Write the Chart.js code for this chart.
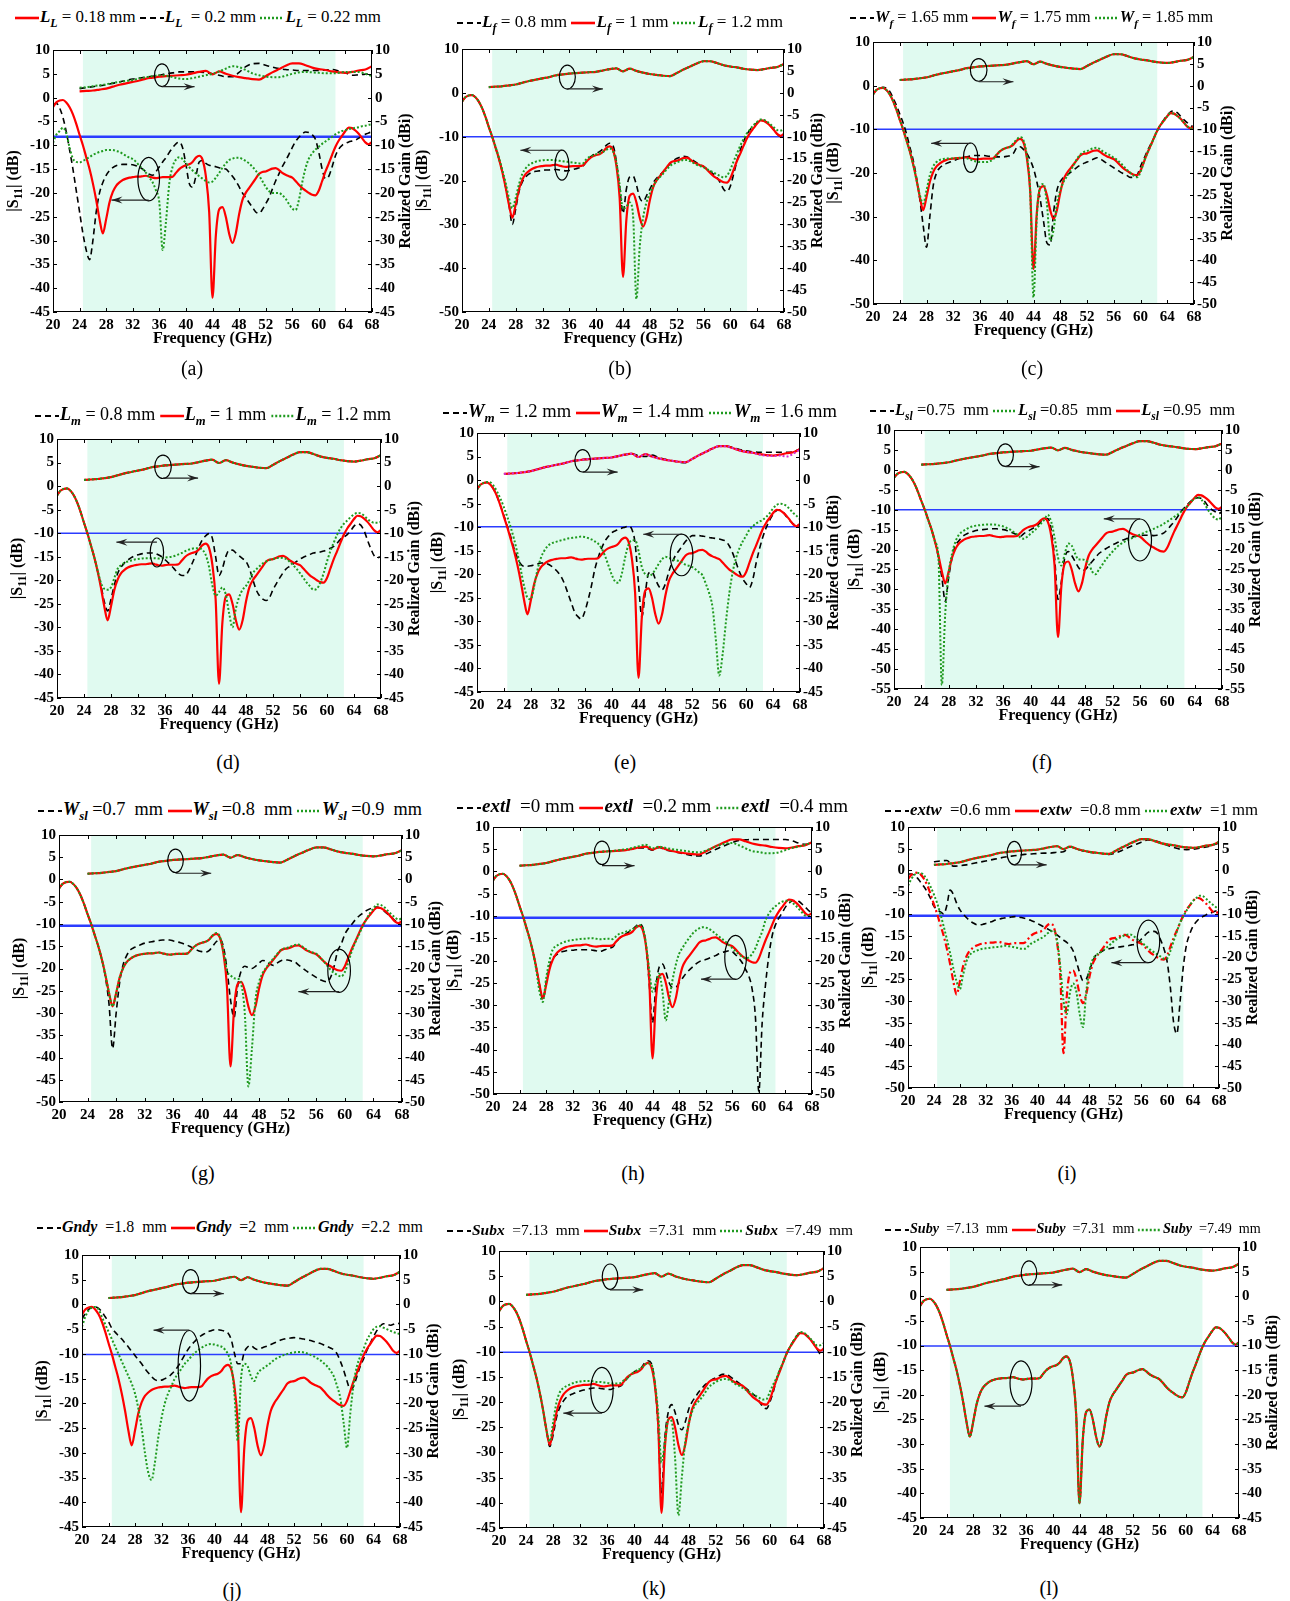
<!DOCTYPE html>
<html>
<head>
<meta charset="utf-8">
<script src="https://cdn.jsdelivr.net/npm/chart.js@4.4.1/dist/chart.umd.min.js"></script>
<style>
  body { margin: 0; background: #fff; width: 1290px; height: 1601px; position: relative; overflow: hidden;
         font-family: "Liberation Serif", "Times New Roman", serif; color: #000; }
  canvas { position: absolute; }
  .leg { position: absolute; white-space: nowrap; font-size: 17px; line-height: 20px; transform-origin: 0 50%; }
  .leg svg { vertical-align: middle; margin-right: 1px; }
  .leg b { font-weight: bold; font-style: italic; }
  .leg sub { font-size: 0.7em; font-weight: bold; font-style: italic; vertical-align: baseline; position: relative; top: 5px; }
  .leg .t { white-space: pre; }
  .lab { position: absolute; font-size: 20px; transform: translate(-50%, -50%); }
  .warn { position: absolute; left: 0; top: 0; color: red; font: 12px monospace; }
</style>
</head>
<body>
<script>
// frequency grids (GHz)
const freqS11 = Array.from({ length: 97 }, (_, i) => 20 + i * 0.5);
const freqGain = Array.from({ length: 45 }, (_, i) => 24 + i);

// reference design (red curves), shared by every panel
const s11Base = [
  -2.0, -1.0, -0.6, -0.5, -1.0, -2.0, -3.5, -5.5, -7.8, -10.0,
  -12.5, -15.0, -18.0, -21.5, -25.5, -28.5, -25.5, -22.0, -19.8, -18.5,
  -17.8, -17.3, -17.0, -16.8, -16.7, -16.6, -16.6, -16.5, -16.4, -16.6,
  -16.8, -16.9, -16.8, -16.7, -16.7, -16.7, -16.6, -15.8, -15.0, -14.5,
  -14.2, -14.0, -13.5, -12.6, -12.2, -13.0, -16.5, -24.0, -42.0, -29.0,
  -23.5, -23.0, -25.0, -28.5, -30.5, -28.5, -24.5, -21.5, -20.0, -19.0,
  -18.0, -17.0, -16.0, -15.6, -15.5, -15.2, -14.9, -14.8, -15.2, -15.8,
  -16.2, -16.5, -16.8, -17.5, -18.3, -19.0, -19.5, -20.0, -20.4, -20.5,
  -19.5, -17.5, -15.5, -13.8, -12.0, -10.3, -9.0, -8.0, -7.0, -6.3,
  -6.4, -6.9, -7.6, -8.5, -9.4, -9.8, -9.3];
const gainBase = [
  1.3, 1.4, 1.5, 1.7, 1.9, 2.3, 2.7, 3.0, 3.3, 3.6,
  4.0, 4.2, 4.4, 4.5, 4.6, 4.7, 4.8, 5.1, 5.4, 5.6,
  4.9, 5.5, 5.0, 4.6, 4.3, 4.1, 3.9, 3.8, 4.5, 5.3,
  6.0, 6.7, 7.2, 7.2, 6.8, 6.3, 6.0, 5.8, 5.5, 5.3,
  5.2, 5.4, 5.7, 5.9, 6.6];

// (a) L_L
const aS11Dash = [
  -1.5, -1.2, -2.2, -4.2, -7.2, -11.0, -15.0, -19.5, -24.0, -28.5,
  -32.0, -34.0, -30.0, -24.0, -20.0, -17.8, -16.3, -15.3, -14.7, -14.3,
  -14.1, -14.0, -14.0, -14.0, -14.1, -14.3, -14.6, -15.0, -15.6, -16.1,
  -16.3, -15.5, -14.5, -13.5, -12.6, -11.5, -10.5, -9.7, -9.3, -10.5,
  -14.0, -18.0, -18.8, -16.5, -13.5, -13.2, -13.8, -14.2, -14.3, -14.5,
  -14.7, -14.9, -15.0, -15.7, -16.5, -17.5, -18.7, -20.0, -21.0, -22.0,
  -23.0, -24.0, -24.3, -23.5, -22.3, -21.0, -19.2, -17.5, -16.0, -14.5,
  -13.2, -11.9, -10.5, -9.2, -8.3, -7.6, -7.2, -7.3, -7.8, -8.8,
  -11.5, -15.0, -17.0, -16.5, -14.5, -12.2, -10.8, -10.0, -9.6, -9.3,
  -9.1, -8.9, -8.5, -8.0, -7.7, -7.4, -7.2];
const aS11Dot = [
  -9.5, -7.8, -7.0, -6.3, -7.5, -10.5, -12.8, -13.5, -13.6, -13.3,
  -12.9, -12.5, -12.0, -11.7, -11.4, -11.2, -11.0, -11.0, -11.0, -11.2,
  -11.4, -11.8, -12.2, -12.6, -12.9, -13.5, -14.3, -15.0, -15.8, -16.8,
  -17.8, -19.5, -22.0, -32.0, -26.0, -18.0, -14.5, -13.0, -12.5, -12.9,
  -13.8, -14.6, -15.3, -15.9, -16.5, -17.0, -17.5, -17.8, -17.6, -16.8,
  -15.8, -14.7, -13.8, -13.1, -12.8, -12.6, -12.6, -12.9, -13.3, -13.8,
  -14.5, -15.3, -16.3, -17.5, -18.7, -19.6, -20.0, -20.0, -20.0, -20.5,
  -21.2, -22.3, -23.3, -23.6, -21.5, -17.8, -14.8, -12.8, -11.7, -10.9,
  -10.3, -9.7, -9.2, -8.7, -8.2, -7.7, -7.3, -7.0, -6.8, -6.6,
  -6.5, -6.3, -6.2, -6.0, -5.9, -5.7, -5.6];
const aGainDash = [
  1.9, 2.1, 2.3, 2.5, 2.7, 3.0, 3.3, 3.6, 3.9, 4.1,
  4.3, 4.5, 4.7, 5.0, 5.2, 5.4, 5.4, 5.4, 5.4, 5.2,
  5.0, 4.7, 4.4, 4.4, 5.3, 6.5, 7.1, 7.2, 6.8, 6.4,
  6.1, 5.9, 5.8, 5.7, 5.7, 5.7, 5.7, 5.8, 5.9, 5.6,
  5.2, 4.7, 4.8, 4.9, 5.0];
const aGainDot = [
  2.1, 2.2, 2.4, 2.6, 2.8, 3.1, 3.3, 3.5, 3.7, 4.0,
  4.3, 4.5, 4.7, 4.6, 4.3, 4.0, 3.9, 4.1, 4.4, 4.7,
  5.0, 5.5, 6.1, 6.6, 6.4, 5.8, 5.1, 4.7, 4.4, 4.3,
  4.3, 4.6, 5.0, 5.3, 5.4, 5.3, 5.2, 5.1, 5.1, 5.2,
  5.4, 5.4, 5.4, 5.0, 4.5];

// (b) L_f
const bS11Dash = [
  -2.0, -1.0, -0.6, -0.5, -1.0, -2.0, -3.5, -5.5, -7.8, -10.0,
  -12.5, -15.0, -18.0, -21.5, -25.5, -30.0, -26.5, -22.5, -20.3, -19.2,
  -18.5, -18.1, -17.9, -17.8, -17.7, -17.6, -17.6, -17.5, -17.5, -17.6,
  -17.7, -17.8, -17.7, -17.5, -17.3, -17.1, -16.8, -15.8, -14.8, -14.2,
  -13.8, -13.4, -12.8, -12.0, -11.5, -12.0, -15.5, -21.5, -27.5, -22.0,
  -19.2, -19.0, -21.0, -24.0, -24.8, -23.5, -22.0, -20.5, -19.5, -18.7,
  -18.0, -17.0, -16.2, -15.5, -15.0, -14.7, -14.5, -14.6, -15.0, -15.5,
  -16.0, -16.4, -16.8, -17.3, -17.9, -18.6, -19.3, -20.5, -22.0, -22.5,
  -21.3, -18.5, -15.5, -13.0, -11.0, -9.4, -8.3, -7.5, -6.8, -6.3,
  -6.3, -6.8, -7.5, -8.4, -9.4, -10.0, -9.6];
const bS11Dot = [
  -2.0, -1.0, -0.6, -0.5, -1.0, -2.0, -3.5, -5.5, -7.8, -10.0,
  -12.3, -14.8, -17.5, -20.5, -24.0, -26.3, -24.0, -20.8, -18.5, -17.2,
  -16.4, -16.0, -15.7, -15.5, -15.4, -15.3, -15.3, -15.3, -15.4, -15.5,
  -15.6, -15.7, -15.8, -15.9, -16.0, -16.1, -16.1, -15.2, -14.6, -14.3,
  -14.0, -13.8, -13.5, -13.0, -12.7, -13.3, -15.8, -21.0, -26.5, -26.0,
  -25.0, -28.0, -47.0, -35.0, -28.5, -25.0, -23.0, -21.3, -20.0, -19.2,
  -18.4, -17.5, -16.7, -16.2, -15.9, -15.6, -15.3, -15.3, -15.6, -16.0,
  -16.4, -16.7, -17.0, -17.4, -17.8, -18.2, -18.6, -19.0, -19.3, -18.9,
  -17.5, -15.6, -13.8, -12.0, -10.5, -9.2, -8.2, -7.3, -6.6, -6.1,
  -6.2, -6.6, -7.2, -7.9, -8.5, -8.6, -8.3];

// (c) W_f
const cS11Dash = [
  -2.0, -1.0, -0.6, -0.4, -0.6, -1.3, -2.8, -4.5, -6.5, -8.5,
  -11.0, -14.0, -17.0, -21.0, -26.0, -32.0, -37.0, -30.0, -23.0, -20.0,
  -18.8, -18.2, -17.8, -17.5, -17.2, -16.9, -16.6, -16.4, -16.3, -16.1,
  -16.0, -16.0, -16.0, -16.0, -16.1, -16.2, -16.3, -16.3, -16.3, -16.3,
  -16.2, -16.0, -15.5, -14.2, -14.0, -14.6, -15.5, -17.0, -19.0, -22.0,
  -26.0, -31.0, -36.0, -36.5, -29.0, -24.0, -22.0, -21.0, -20.5, -19.9,
  -19.3, -18.7, -18.2, -17.8, -17.5, -17.1, -16.8, -16.5, -16.8, -17.3,
  -17.8, -18.3, -18.8, -19.3, -19.8, -20.2, -20.6, -21.0, -21.0, -20.5,
  -18.5, -16.8, -15.0, -13.5, -12.0, -10.3, -9.0, -7.8, -6.8, -6.0,
  -5.8, -6.2, -7.0, -7.8, -8.5, -9.2, -9.3];
const cS11Dot = [
  -2.0, -1.0, -0.6, -0.5, -1.0, -2.0, -3.5, -5.5, -7.8, -10.0,
  -12.5, -15.0, -18.0, -21.5, -25.0, -27.0, -24.0, -20.5, -18.5, -17.5,
  -17.0, -16.8, -16.7, -16.7, -16.6, -16.6, -16.5, -16.5, -16.6, -16.9,
  -17.2, -17.4, -17.5, -17.5, -17.5, -17.3, -16.8, -15.8, -15.0, -14.5,
  -14.2, -14.0, -13.2, -12.3, -11.8, -12.5, -16.0, -24.0, -48.5, -30.0,
  -23.0, -22.5, -27.0, -35.5, -33.0, -27.0, -24.0, -22.0, -20.8, -19.5,
  -18.2, -16.8, -15.8, -15.2, -15.0, -14.6, -14.3, -14.2, -14.6, -15.2,
  -15.6, -16.0, -16.5, -17.0, -17.7, -18.5, -19.3, -20.0, -20.6, -21.0,
  -19.8, -17.5, -15.5, -13.8, -12.0, -10.3, -9.0, -8.0, -7.0, -6.3,
  -6.4, -6.9, -7.6, -8.5, -9.3, -9.8, -9.8];

// (d) L_m
const dS11Dash = [
  -2.0, -1.0, -0.6, -0.5, -1.0, -2.0, -3.5, -5.5, -7.8, -10.0,
  -12.5, -15.0, -18.0, -21.0, -24.5, -26.5, -24.0, -21.0, -18.5, -17.2,
  -16.3, -15.7, -15.2, -14.8, -14.6, -14.4, -14.3, -14.2, -14.2, -14.3,
  -14.6, -15.0, -15.6, -16.3, -17.0, -17.8, -18.6, -19.0, -19.0, -18.0,
  -16.5, -14.8, -13.0, -11.5, -10.6, -10.1, -11.0, -15.0, -19.0, -17.5,
  -15.0, -13.6, -13.6, -14.2, -14.8, -15.4, -16.0, -17.5, -19.8, -22.0,
  -23.3, -24.0, -24.3, -23.6, -22.0, -20.7, -19.5, -18.4, -17.5, -17.0,
  -16.5, -16.0, -15.5, -15.1, -14.8, -14.5, -14.2, -14.1, -14.0, -13.8,
  -13.5, -13.2, -12.8, -12.1, -11.3, -10.8, -10.3, -9.5, -8.5, -8.0,
  -8.3, -9.5, -11.5, -13.3, -14.8, -15.2, -15.0];
const dS11Dot = [
  -2.0, -1.0, -0.6, -0.5, -1.0, -2.0, -3.5, -5.5, -7.8, -10.0,
  -12.5, -15.0, -17.8, -20.5, -21.8, -22.0, -21.5, -19.5, -17.5, -16.8,
  -16.3, -16.0, -15.8, -15.6, -15.5, -15.4, -15.3, -15.3, -15.3, -15.3,
  -15.4, -15.3, -15.2, -15.1, -15.0, -14.8, -14.5, -14.2, -13.8, -13.5,
  -13.3, -13.2, -13.2, -13.5, -14.5, -17.0, -21.0, -23.3, -22.5, -21.5,
  -23.0, -27.0, -30.0, -26.0, -23.5, -22.0, -21.2, -20.0, -18.5, -17.7,
  -17.0, -16.4, -16.0, -15.7, -15.5, -15.3, -15.2, -15.3, -15.5, -16.1,
  -16.8, -17.6, -18.5, -19.5, -20.5, -21.3, -22.0, -21.8, -20.5, -18.5,
  -16.0, -13.8, -12.0, -10.3, -9.0, -8.0, -7.3, -6.6, -6.0, -5.7,
  -5.8, -6.3, -7.0, -7.5, -7.8, -7.8, -7.6];

// (e) W_m
const eS11Dash = [
  -2.0, -1.0, -0.6, -0.5, -1.0, -2.0, -3.5, -5.5, -7.5, -9.8,
  -12.0, -14.5, -16.5, -17.8, -18.3, -18.3, -18.2, -18.0, -17.8, -17.6,
  -17.6, -17.8, -18.2, -18.8, -19.5, -20.5, -22.0, -24.0, -26.0, -28.0,
  -29.0, -29.5, -28.0, -25.5, -22.5, -19.0, -16.5, -14.5, -13.0, -12.0,
  -11.2, -10.8, -10.5, -10.2, -10.0, -9.8, -10.4, -13.5, -22.0, -29.0,
  -24.0, -19.8, -19.5, -21.0, -22.5, -23.3, -22.0, -19.5, -17.5, -16.0,
  -15.0, -14.0, -13.0, -12.3, -11.8, -11.8, -11.8, -11.9, -12.0, -12.2,
  -12.3, -12.4, -12.5, -12.7, -13.0, -14.0, -15.5, -17.5, -19.5, -21.0,
  -22.0, -22.8, -21.0, -17.5, -14.5, -12.0, -10.0, -8.5, -7.3, -6.5,
  -6.3, -6.8, -7.8, -8.6, -9.3, -9.7, -9.3];
const eS11Dot = [
  -2.0, -1.0, -0.6, -0.4, -0.5, -1.3, -2.5, -4.0, -5.8, -7.8,
  -10.0, -12.5, -15.5, -19.0, -22.5, -25.0, -25.3, -22.5, -19.0, -16.5,
  -15.0, -14.0, -13.5, -13.2, -13.0, -12.8, -12.6, -12.4, -12.3, -12.2,
  -12.1, -12.0, -12.1, -12.3, -12.6, -13.0, -13.5, -14.5, -16.0, -18.0,
  -20.0, -21.5, -21.8, -20.0, -16.5, -13.8, -12.8, -12.8, -15.0, -18.5,
  -20.0, -20.3, -20.0, -19.0, -17.8, -16.8, -16.3, -16.5, -16.8, -17.0,
  -17.2, -17.5, -18.0, -18.2, -18.5, -19.0, -19.6, -20.2, -22.0, -24.0,
  -27.0, -34.0, -41.5, -37.0, -30.0, -24.0, -19.5, -16.5, -14.5, -13.0,
  -11.8, -10.5, -9.8, -9.2, -8.8, -8.4, -7.8, -7.0, -6.0, -5.3,
  -5.0, -5.1, -5.5, -6.2, -7.0, -7.6, -8.3];
const eGainDash = [
  1.3, 1.4, 1.5, 1.7, 1.9, 2.3, 2.7, 3.0, 3.3, 3.6,
  4.0, 4.2, 4.4, 4.5, 4.6, 4.7, 4.8, 5.1, 5.4, 5.6,
  5.2, 5.0, 5.3, 4.8, 4.4, 4.1, 3.8, 3.7, 4.5, 5.3,
  6.0, 6.7, 7.2, 7.2, 6.9, 6.5, 6.2, 6.0, 5.9, 5.9,
  5.9, 5.9, 5.9, 6.0, 6.6];
const eGainDot = [
  1.3, 1.4, 1.5, 1.7, 1.9, 2.3, 2.7, 3.0, 3.3, 3.6,
  4.0, 4.2, 4.4, 4.5, 4.6, 4.7, 4.8, 5.1, 5.4, 5.6,
  4.9, 5.5, 5.0, 4.6, 4.3, 4.1, 3.9, 3.8, 4.5, 5.3,
  6.0, 6.7, 7.2, 7.2, 6.8, 6.3, 6.0, 5.8, 5.4, 5.2,
  5.1, 5.2, 5.0, 5.6, 6.5];

// (f) L_sl
const fS11Dash = [
  -2.0, -1.0, -0.6, -0.5, -1.0, -2.0, -3.5, -5.5, -7.8, -10.0,
  -12.5, -15.0, -18.0, -22.0, -27.0, -33.0, -27.0, -22.0, -19.0, -17.8,
  -16.8, -16.2, -15.8, -15.5, -15.2, -15.1, -15.0, -14.9, -14.8, -14.8,
  -14.8, -14.9, -15.0, -15.2, -15.5, -15.9, -16.3, -16.7, -16.0, -15.5,
  -15.0, -14.5, -14.0, -13.0, -12.5, -12.2, -15.0, -22.0, -32.5, -28.0,
  -22.0, -20.5, -21.5, -23.0, -24.5, -25.3, -25.0, -24.0, -23.0, -22.0,
  -21.0, -20.4, -19.8, -19.3, -18.8, -18.4, -18.0, -17.6, -17.3, -17.0,
  -16.8, -16.6, -16.5, -16.4, -16.4, -16.4, -16.5, -16.4, -16.2, -15.8,
  -15.0, -14.0, -13.0, -11.8, -10.5, -9.5, -8.6, -7.8, -7.2, -7.0,
  -7.2, -8.0, -9.2, -10.0, -10.5, -11.0, -10.5];
const fS11Dot = [
  -2.0, -1.0, -0.6, -0.5, -1.0, -2.0, -3.5, -5.5, -7.8, -10.0,
  -12.5, -15.0, -18.0, -22.0, -54.0, -36.0, -26.0, -21.0, -18.0, -16.3,
  -15.5, -15.0, -14.5, -14.2, -14.0, -13.9, -13.8, -13.7, -13.7, -13.7,
  -13.8, -14.0, -14.2, -14.6, -15.0, -15.6, -16.2, -17.0, -17.3, -16.8,
  -16.0, -15.3, -14.5, -13.5, -12.5, -11.3, -13.0, -17.0, -22.0, -24.0,
  -21.0, -18.5, -19.0, -21.0, -22.5, -22.5, -22.7, -23.5, -25.5, -26.2,
  -25.0, -23.8, -22.5, -21.5, -20.5, -19.6, -18.8, -18.3, -17.8, -17.4,
  -17.0, -16.6, -16.3, -15.9, -15.5, -15.2, -14.8, -14.4, -14.0, -13.5,
  -13.0, -12.4, -11.8, -11.2, -10.5, -9.8, -9.0, -8.0, -7.2, -6.9,
  -7.5, -8.7, -10.2, -11.3, -12.2, -12.5, -11.5];

// (g) W_sl
const gS11Dash = [
  -2.0, -1.0, -0.6, -0.5, -1.0, -2.0, -3.5, -5.5, -7.8, -10.0,
  -12.5, -15.0, -18.0, -22.0, -28.0, -38.0, -30.0, -23.0, -19.0, -17.0,
  -15.8, -15.3, -15.0, -14.6, -14.3, -14.1, -14.0, -13.8, -13.7, -13.6,
  -13.6, -13.6, -13.8, -14.0, -14.2, -14.5, -14.8, -15.2, -15.6, -16.0,
  -16.2, -16.3, -16.0, -15.0, -14.0, -13.4, -15.0, -20.0, -27.0, -31.0,
  -24.0, -20.5, -19.5, -19.8, -20.0, -19.5, -18.8, -18.2, -18.4, -19.0,
  -19.3, -18.8, -18.3, -18.1, -18.1, -18.3, -18.5, -19.2, -19.8, -20.4,
  -21.0, -21.5, -22.0, -22.5, -22.8, -23.0, -22.0, -19.5, -16.0, -14.5,
  -12.3, -11.0, -10.0, -9.0, -8.2, -7.6, -7.0, -6.6, -6.3, -6.2,
  -6.5, -7.1, -7.8, -8.5, -9.2, -9.8, -10.3];
const gS11Dot = [
  -2.0, -1.0, -0.6, -0.5, -1.0, -2.0, -3.5, -5.5, -7.8, -10.0,
  -12.5, -15.0, -18.0, -21.5, -25.5, -28.5, -25.5, -22.0, -19.8, -18.5,
  -17.8, -17.3, -17.0, -16.8, -16.7, -16.6, -16.6, -16.5, -16.4, -16.6,
  -16.8, -16.9, -16.8, -16.7, -16.7, -16.7, -16.6, -15.8, -15.0, -14.5,
  -14.2, -14.0, -13.5, -12.6, -12.0, -12.8, -16.0, -20.5, -21.5, -22.2,
  -22.3, -23.5, -30.0, -46.5, -38.0, -27.0, -23.0, -21.0, -19.8, -18.7,
  -17.8, -16.8, -15.9, -15.5, -15.3, -15.0, -14.7, -14.6, -15.0, -15.6,
  -16.1, -16.4, -16.7, -17.4, -18.3, -19.3, -20.3, -21.0, -21.5, -21.8,
  -20.8, -18.5, -16.0, -14.0, -12.3, -10.5, -9.0, -7.6, -6.5, -5.6,
  -5.7, -6.2, -7.0, -7.8, -8.5, -9.0, -8.7];

// (h) extl
const hS11Dash = [
  -2.0, -1.0, -0.6, -0.5, -1.0, -2.0, -3.5, -5.5, -7.8, -10.0,
  -12.5, -15.0, -18.0, -21.5, -25.5, -28.8, -25.0, -21.5, -19.5, -18.8,
  -18.3, -18.0, -17.8, -17.7, -17.7, -17.6, -17.6, -17.6, -17.6, -17.6,
  -17.7, -17.8, -18.0, -17.8, -17.5, -17.2, -17.0, -16.0, -15.0, -14.5,
  -14.0, -13.5, -13.0, -12.3, -11.8, -12.5, -16.5, -25.0, -34.0, -26.0,
  -21.5, -20.8, -22.5, -25.0, -26.0, -26.0, -25.0, -24.0, -23.0, -22.2,
  -21.5, -20.8, -20.3, -20.0, -19.8, -19.5, -19.2, -18.9, -18.5, -18.2,
  -18.0, -17.8, -18.0, -18.7, -19.5, -20.5, -22.0, -23.5, -26.5, -33.0,
  -49.5, -34.0, -25.5, -19.0, -14.5, -12.0, -10.5, -9.3, -8.0, -7.2,
  -6.6, -6.5, -6.7, -7.3, -8.0, -8.8, -9.2];
const hS11Dot = [
  -2.0, -1.0, -0.6, -0.5, -1.0, -2.0, -3.5, -5.5, -7.8, -10.0,
  -12.5, -15.0, -18.0, -22.0, -27.0, -29.3, -24.0, -20.0, -17.5, -16.8,
  -16.3, -16.0, -15.7, -15.5, -15.4, -15.3, -15.2, -15.1, -15.1, -15.0,
  -15.0, -15.1, -15.2, -15.2, -15.1, -15.1, -15.2, -14.6, -14.0, -13.8,
  -13.5, -13.3, -13.0, -12.5, -12.0, -12.5, -16.0, -22.0, -27.0, -25.0,
  -23.0, -27.0, -33.5, -29.0, -24.5, -21.0, -18.5, -17.2, -16.0, -15.0,
  -14.0, -13.3, -12.8, -12.5, -12.6, -12.9, -13.4, -14.0, -14.6, -15.2,
  -15.8, -16.5, -17.2, -17.9, -18.6, -19.1, -19.5, -19.3, -18.5, -17.2,
  -15.3, -13.5, -11.0, -9.5, -8.5, -7.8, -7.2, -6.8, -6.6, -6.6,
  -7.0, -7.6, -8.4, -9.2, -9.9, -10.0, -9.6];
const hGainDash = [
  1.3, 1.4, 1.5, 1.7, 1.9, 2.3, 2.7, 3.0, 3.3, 3.6,
  4.0, 4.2, 4.4, 4.5, 4.6, 4.7, 4.8, 5.1, 5.3, 5.3,
  4.8, 5.4, 4.8, 4.5, 4.2, 3.9, 3.6, 3.5, 3.9, 4.6,
  5.3, 5.9, 6.5, 7.0, 7.1, 7.2, 7.2, 7.2, 7.2, 7.2,
  7.2, 6.9, 6.4, 6.1, 6.6];
const hGainDot = [
  1.3, 1.4, 1.5, 1.7, 1.9, 2.3, 2.7, 3.0, 3.3, 3.6,
  4.0, 4.2, 4.4, 4.5, 4.6, 4.8, 5.0, 5.3, 5.7, 6.0,
  5.2, 5.6, 5.3, 5.0, 4.8, 4.6, 4.4, 4.3, 4.7, 5.3,
  5.9, 6.3, 6.4, 5.9, 5.2, 4.6, 4.4, 4.1, 4.1, 4.3,
  4.8, 5.3, 5.6, 6.0, 6.6];

// (i) extw
const iS11Dash = [
  -0.8, -0.8, -1.2, -1.8, -2.8, -3.8, -5.0, -6.5, -8.2, -9.0,
  -9.5, -10.0, -8.0, -4.5, -5.5, -7.5, -9.0, -10.0, -10.8, -11.5,
  -12.0, -12.4, -12.5, -12.4, -12.2, -12.0, -11.7, -11.4, -11.2, -11.0,
  -10.9, -10.8, -10.7, -10.6, -10.7, -10.8, -11.0, -11.2, -11.5, -11.8,
  -12.2, -12.6, -13.0, -13.4, -13.8, -14.3, -14.8, -15.4, -16.0, -16.5,
  -17.3, -18.5, -21.0, -23.5, -25.3, -25.0, -23.0, -21.0, -19.5, -19.0,
  -18.5, -18.2, -18.0, -17.8, -17.7, -17.6, -17.5, -17.4, -17.3, -17.1,
  -17.0, -16.5, -15.8, -15.0, -14.3, -14.0, -14.0, -14.5, -16.0, -18.0,
  -21.0, -27.0, -35.0, -37.5, -30.0, -22.0, -17.0, -14.5, -12.8, -11.8,
  -11.0, -10.6, -10.2, -9.9, -9.6, -9.3, -9.2];
const iS11Dot = [
  -3.5, -2.0, -1.0, -0.6, -0.6, -1.2, -2.3, -3.8, -5.5, -7.5,
  -10.0, -12.8, -15.8, -19.0, -22.5, -25.5, -27.3, -24.0, -21.0, -19.5,
  -18.8, -18.5, -18.2, -18.0, -17.9, -17.8, -17.7, -17.6, -17.6, -17.4,
  -17.3, -17.4, -17.5, -17.7, -17.8, -18.0, -18.0, -17.5, -16.8, -16.4,
  -16.0, -15.6, -15.2, -14.5, -14.0, -13.8, -16.0, -22.0, -30.0, -33.0,
  -28.0, -26.0, -28.0, -33.0, -36.0, -28.0, -23.0, -20.5, -19.5, -19.0,
  -18.5, -17.9, -17.3, -16.6, -16.0, -15.6, -15.2, -14.9, -14.7, -14.8,
  -15.3, -15.9, -16.5, -17.1, -17.7, -18.3, -18.8, -19.3, -19.8, -20.3,
  -20.2, -18.5, -16.2, -14.0, -12.0, -10.5, -9.2, -8.0, -7.0, -6.3,
  -5.8, -5.9, -6.5, -7.2, -7.8, -8.4, -9.0];
const iGainDash = [
  2.0, 2.2, 2.3, 1.0, 1.1, 1.3, 1.6, 1.9, 2.2, 2.5,
  2.8, 3.1, 3.3, 3.5, 3.7, 3.8, 3.9, 4.0, 4.0, 4.2,
  4.3, 5.4, 5.0, 4.5, 4.2, 4.0, 3.9, 3.7, 4.0, 4.6,
  5.3, 5.9, 6.5, 7.0, 6.9, 6.4, 5.8, 5.3, 4.9, 4.8,
  4.9, 5.1, 5.4, 5.8, 6.3];

// (j) Gndy
const jS11Dash = [
  -3.0, -1.8, -1.0, -0.6, -0.5, -0.8, -1.5, -2.5, -3.5, -4.8,
  -5.6, -6.3, -7.0, -7.8, -8.6, -9.5, -10.3, -11.2, -12.0, -13.0,
  -13.8, -14.6, -15.2, -15.4, -15.3, -15.0, -14.7, -14.1, -13.4, -12.5,
  -11.4, -10.2, -9.1, -8.2, -7.5, -6.8, -6.3, -5.9, -5.5, -5.3,
  -5.1, -5.1, -5.2, -5.4, -5.7, -7.0, -9.8, -12.0, -12.0, -9.6,
  -8.6, -8.3, -8.8, -9.1, -8.9, -8.6, -8.4, -8.1, -7.8, -7.5,
  -7.2, -7.0, -6.9, -6.8, -6.7, -6.8, -6.9, -7.0, -7.2, -7.3,
  -7.5, -7.7, -7.9, -8.2, -8.5, -8.8, -9.2, -10.0, -11.5, -13.3,
  -15.5, -17.2, -16.5, -14.5, -12.5, -11.0, -9.3, -7.9, -6.5, -5.3,
  -4.4, -3.9, -4.0, -4.2, -4.0, -3.8, -3.9];
const jS11Dot = [
  -4.5, -2.5, -1.2, -0.6, -0.5, -1.0, -2.5, -4.0, -5.5, -7.0,
  -8.5, -10.0, -11.5, -13.0, -14.5, -16.0, -18.0, -21.0, -25.0, -30.0,
  -34.0, -35.5, -32.0, -27.0, -23.0, -20.0, -18.0, -16.5, -15.0, -14.0,
  -13.0, -12.0, -11.3, -10.5, -9.8, -9.3, -8.8, -8.4, -8.1, -8.0,
  -8.1, -8.3, -8.5, -9.0, -10.0, -12.0, -18.0, -27.5, -15.0, -12.0,
  -12.5, -14.5, -15.5, -14.0, -13.2, -12.8, -12.3, -11.8, -11.2, -10.8,
  -10.5, -10.2, -10.0, -9.8, -9.7, -9.6, -9.6, -9.7, -9.9, -10.2,
  -10.5, -10.9, -11.3, -11.9, -12.5, -13.4, -14.5, -16.5, -19.0, -24.0,
  -29.0, -22.0, -16.0, -12.5, -10.5, -9.0, -7.2, -6.0, -5.0, -4.5,
  -4.4, -4.7, -5.0, -5.3, -5.6, -5.8, -6.0];

// (k) Subx
const kS11Dash = [
  -2.0, -1.0, -0.6, -0.5, -1.0, -2.0, -3.5, -5.5, -7.8, -10.0,
  -12.5, -15.0, -18.0, -21.5, -25.5, -28.8, -26.5, -23.0, -21.0, -19.8,
  -19.0, -18.6, -18.3, -18.0, -17.8, -17.6, -17.4, -17.3, -17.2, -17.2,
  -17.3, -17.4, -17.5, -17.5, -17.2, -17.0, -16.8, -16.0, -15.2, -14.5,
  -14.0, -13.6, -13.2, -12.3, -11.8, -12.3, -16.0, -25.0, -38.0, -27.0,
  -22.0, -20.5, -22.0, -24.5, -25.5, -24.0, -21.5, -20.0, -19.0, -18.0,
  -17.2, -16.5, -16.0, -15.5, -15.2, -14.8, -14.5, -14.4, -14.8, -15.3,
  -15.8, -16.3, -16.8, -17.3, -17.8, -18.4, -19.0, -20.0, -21.0, -21.3,
  -20.0, -18.0, -15.5, -13.5, -12.0, -10.3, -9.0, -7.8, -6.8, -6.2,
  -6.3, -6.8, -7.5, -8.5, -9.5, -10.5, -10.0];
const kS11Dot = [
  -2.0, -1.0, -0.6, -0.5, -1.0, -2.0, -3.5, -5.5, -7.8, -10.0,
  -12.5, -15.0, -18.0, -21.5, -25.5, -27.8, -24.0, -20.0, -18.0, -17.2,
  -16.8, -16.5, -16.2, -16.0, -15.9, -15.8, -15.8, -15.8, -15.9, -16.0,
  -16.0, -16.1, -16.2, -16.3, -16.3, -16.3, -16.2, -15.6, -15.2, -14.5,
  -14.0, -13.6, -13.3, -12.6, -12.3, -12.5, -16.0, -22.0, -32.0, -28.0,
  -23.5, -23.8, -31.0, -42.5, -35.0, -28.0, -24.5, -22.0, -20.5, -19.8,
  -19.0, -18.0, -17.0, -16.5, -16.0, -15.7, -15.5, -15.4, -15.6, -16.0,
  -16.5, -16.8, -17.2, -17.6, -18.0, -18.4, -18.8, -19.2, -19.5, -19.4,
  -18.0, -16.5, -15.2, -13.5, -12.0, -10.3, -9.0, -7.8, -6.8, -6.1,
  -6.2, -6.8, -7.4, -8.1, -8.8, -8.7, -8.3];

// legend entries: [line style, symbol, subscript, rest]
const legA = [[1, 'L', 'L', ' = 0.18 mm '], [0, 'L', 'L', '  = 0.2 mm '], [2, 'L', 'L', ' = 0.22 mm']];
const legB = [[0, 'L', 'f', ' = 0.8 mm '], [1, 'L', 'f', ' = 1 mm '], [2, 'L', 'f', ' = 1.2 mm']];
const legC = [[0, 'W', 'f', ' = 1.65 mm '], [1, 'W', 'f', ' = 1.75 mm '], [2, 'W', 'f', ' = 1.85 mm']];
const legD = [[0, 'L', 'm', ' = 0.8 mm '], [1, 'L', 'm', ' = 1 mm '], [2, 'L', 'm', ' = 1.2 mm']];
const legE = [[0, 'W', 'm', ' = 1.2 mm '], [1, 'W', 'm', ' = 1.4 mm '], [2, 'W', 'm', ' = 1.6 mm']];
const legF = [[0, 'L', 'sl', ' =0.75  mm '], [2, 'L', 'sl', ' =0.85  mm '], [1, 'L', 'sl', ' =0.95  mm']];
const legG = [[0, 'W', 'sl', ' =0.7  mm '], [1, 'W', 'sl', ' =0.8  mm '], [2, 'W', 'sl', ' =0.9  mm']];
const legH = [[0, 'extl', '', '  =0 mm '], [1, 'extl', '', '  =0.2 mm '], [2, 'extl', '', '  =0.4 mm']];
const legI = [[0, 'extw', '', '  =0.6 mm '], [1, 'extw', '', '  =0.8 mm '], [2, 'extw', '', '  =1 mm']];
const legJ = [[0, 'Gndy', '', '  =1.8  mm '], [1, 'Gndy', '', '  =2  mm '], [2, 'Gndy', '', '  =2.2  mm']];
const legK = [[0, 'Subx', '', '  =7.13  mm '], [1, 'Subx', '', '  =7.31  mm '], [2, 'Subx', '', '  =7.49  mm']];
const legL = [[0, 'Suby', '', '  =7.13  mm '], [1, 'Suby', '', '  =7.31  mm '], [2, 'Suby', '', '  =7.49  mm']];

const band = [24.5, 62.5];   // shaded operating band (GHz)

// panel layout: plot box [left, top, right, bottom], legend span [x0, x1, y] in page pixels
const panels = [
  { key: 'a', box: [53, 50, 372, 312], yMin: -45, lStep: 5, thr: -8.2, thrW: 2.5, s11: [aS11Dash, s11Base, aS11Dot], gain: [aGainDash, gainBase, aGainDot], leg: legA, legAt: [15, 381, 17], labAt: [192, 368],
    ell: [[36.4, 4.7, 7.5, 11.3], [34.4, -17.1, 10.8, 21.7]], arr: [[36.4, 41.3, 2.3], [34.4, 28.8, -21.5]] },
  { key: 'b', box: [462, 49, 784, 312], yMin: -50, lStep: 10, thr: -10, thrW: 1.5, s11: [bS11Dash, s11Base, bS11Dot], gain: [gainBase, gainBase, gainBase], leg: legB, legAt: [457, 783, 22], labAt: [620, 368],
    ell: [[35.7, 3.6, 8, 12], [34.9, -16.5, 7, 15]], arr: [[35.7, 41.0, 0.9], [34.9, 28.7, -13.1]] },
  { key: 'c', box: [873, 42, 1194, 304], yMin: -50, lStep: 10, thr: -10, thrW: 1.5, s11: [cS11Dash, s11Base, cS11Dot], gain: [gainBase, gainBase, gainBase], leg: legC, legAt: [850, 1213, 17], labAt: [1032, 368],
    ell: [[35.8, 3.6, 8.3, 11.3], [34.6, -16.5, 7.2, 14.7]], arr: [[35.8, 41.0, 0.9], [34.6, 28.7, -13.2]] },
  { key: 'd', box: [57, 439, 381, 698], yMin: -45, lStep: 5, thr: -10, thrW: 1.5, s11: [dS11Dash, s11Base, dS11Dot], gain: [gainBase, gainBase, gainBase], leg: legD, legAt: [35, 391, 414], labAt: [228, 762],
    ell: [[35.7, 4.1, 8.3, 11.7], [34.8, -14.1, 6.7, 14.5]], arr: [[35.7, 40.9, 1.7], [34.8, 28.8, -11.9]] },
  { key: 'e', box: [477, 433, 800, 692], yMin: -45, lStep: 5, thr: -9.9, thrW: 1.5, s11: [eS11Dash, s11Base, eS11Dot], gain: [eGainDash, gainBase, eGainDot], gainDotColor: '#d22bd2', leg: legE, legAt: [443, 837, 411], labAt: [625, 762],
    ell: [[35.7, 4.1, 7.8, 11.2], [50.4, -15.9, 11.3, 20.8]], arr: [[35.7, 40.9, 1.7], [50.4, 44.7, -11.5]] },
  { key: 'f', box: [894, 430, 1222, 689], yMin: -55, lStep: 5, thr: -10, thrW: 1.5, s11: [fS11Dash, s11Base, fS11Dot], gain: [gainBase, gainBase, gainBase], leg: legF, legAt: [870, 1235, 410], labAt: [1042, 762],
    ell: [[36.3, 3.7, 8, 11.3], [56.0, -17.6, 11.5, 21]], arr: [[36.3, 41.3, 0.8], [56.0, 50.7, -12.3]] },
  { key: 'g', box: [59, 835, 402, 1102], yMin: -50, lStep: 5, thr: -10.4, thrW: 2.5, s11: [gS11Dash, s11Base, gS11Dot], gain: [gainBase, gainBase, gainBase], leg: legG, legAt: [38, 422, 809], labAt: [203, 1173],
    ell: [[36.3, 4.2, 7.8, 11.7], [59.2, -20.5, 11.3, 21.7]], arr: [[36.3, 41.3, 1.4], [59.2, 53.5, -25.2]] },
  { key: 'h', box: [493, 827, 812, 1094], yMin: -50, lStep: 5, thr: -10.4, thrW: 2.5, s11: [hS11Dash, s11Base, hS11Dot], gain: [hGainDash, gainBase, hGainDot], leg: legH, legAt: [457, 848, 806], labAt: [633, 1173],
    ell: [[36.4, 4.2, 7.8, 11.7], [56.5, -19.3, 10.8, 22]], arr: [[36.4, 41.3, 1.3], [56.5, 51.3, -24.2]] },
  { key: 'i', box: [908, 827, 1219, 1088], yMin: -50, lStep: 5, thr: -10.4, thrW: 2.5, s11: [iS11Dash, s11Base, iS11Dot], gain: [iGainDash, gainBase, gainBase], redDash: [7, 3, 2, 3], leg: legI, legAt: [885, 1258, 810], labAt: [1067, 1173],
    ell: [[36.4, 4.0, 7.2, 11.7], [57.1, -16.3, 11.3, 21.3]], arr: [[36.4, 41.4, 1.3], [57.1, 51.4, -21.2]] },
  { key: 'j', box: [82, 1255, 400, 1527], yMin: -45, lStep: 5, thr: -10.1, thrW: 1.5, s11: [jS11Dash, s11Base, jS11Dot], gain: [gainBase, gainBase, gainBase], leg: legJ, legAt: [37, 423, 1227], labAt: [232, 1590],
    ell: [[36.4, 4.6, 8.2, 12], [36.2, -12.4, 11.2, 35.3]], arr: [[36.4, 41.4, 2.2], [36.2, 30.8, -5.2]] },
  { key: 'k', box: [499, 1251, 824, 1528], yMin: -45, lStep: 5, thr: -10.1, thrW: 1.5, s11: [kS11Dash, s11Base, kS11Dot], gain: [gainBase, gainBase, gainBase], leg: legK, legAt: [447, 853, 1230], labAt: [654, 1588],
    ell: [[36.4, 4.9, 7.8, 12.7], [35.2, -17.6, 11.2, 22.7]], arr: [[36.4, 41.3, 2.3], [35.2, 29.5, -22.2]] },
  { key: 'l', box: [920, 1247, 1239, 1518], yMin: -45, lStep: 5, thr: -10.1, thrW: 1.5, s11: [s11Base, s11Base, s11Base], gain: [gainBase, gainBase, gainBase], leg: legL, legAt: [885, 1261, 1228], labAt: [1049, 1588],
    ell: [[36.4, 4.7, 7.8, 12.2], [35.2, -17.6, 11, 22.2]], arr: [[36.4, 41.4, 2.3], [35.2, 29.7, -22.3]] }
];

const M = 75, PT = 12, BH = 45;
const SERIF = '"Liberation Serif", "Times New Roman", serif';
const lineStyles = [
  { color: '#000000', width: 1.6, dash: [6, 4] },
  { color: '#ff0000', width: 2.2, dash: [] },
  { color: '#1f9a1f', width: 2.0, dash: [2, 2] }
];
const BAND_COLOR = 'rgb(224, 250, 240)';
const THR_COLOR = '#2b3cff';

// length check while editing
[...panels.flatMap(p => p.s11)].forEach((a, i) => {
  if (a.length !== freqS11.length) document.body.insertAdjacentHTML('beforeend', `<div class="warn">s11 ${i} len ${a.length}</div>`);
});
[...panels.flatMap(p => p.gain)].forEach((a, i) => {
  if (a.length !== freqGain.length) document.body.insertAdjacentHTML('beforeend', `<div class="warn" style="top:14px">gain ${i} len ${a.length}</div>`);
});

function vTitle(ctx, parts, cx, cy) {
  ctx.save();
  ctx.translate(cx, cy);
  ctx.rotate(-Math.PI / 2);
  ctx.textBaseline = 'middle';
  ctx.textAlign = 'left';
  let total = 0;
  parts.forEach(([t, f]) => { ctx.font = f; total += ctx.measureText(t).width; });
  let x = -total / 2;
  parts.forEach(([t, f, dy]) => { ctx.font = f; ctx.fillText(t, x, dy || 0); x += ctx.measureText(t).width; });
  ctx.restore();
}

function arrow(ctx, x1, y, x2) {
  ctx.beginPath(); ctx.moveTo(x1, y); ctx.lineTo(x2, y); ctx.stroke();
  const d = Math.sign(x2 - x1);
  ctx.beginPath();
  ctx.moveTo(x2, y); ctx.lineTo(x2 - d * 11, y - 3.5); ctx.lineTo(x2 - d * 7, y); ctx.lineTo(x2 - d * 11, y + 3.5);
  ctx.closePath(); ctx.fill();
}

function makeDecor(p) {
  return {
    id: 'decor_' + p.key,
    beforeDatasetsDraw(chart) {
      const { ctx, chartArea: a, scales: { x, y } } = chart;
      ctx.save();
      const x0 = x.getPixelForValue(band[0]), x1 = x.getPixelForValue(band[1]);
      ctx.fillStyle = BAND_COLOR;
      ctx.fillRect(x0, a.top, x1 - x0, a.bottom - a.top);
      const ty = y.getPixelForValue(p.thr);
      ctx.strokeStyle = THR_COLOR;
      ctx.lineWidth = p.thrW;
      ctx.beginPath(); ctx.moveTo(a.left, ty); ctx.lineTo(a.right, ty); ctx.stroke();
      ctx.restore();
    },
    afterDatasetsDraw(chart) {
      const { ctx, chartArea: a, scales: { x, y, y2 } } = chart;
      ctx.save();
      ctx.strokeStyle = '#000';
      ctx.fillStyle = '#000';
      ctx.lineWidth = 1;
      ctx.strokeRect(a.left + 0.5, a.top + 0.5, a.right - a.left - 1, a.bottom - a.top - 1);
      ctx.beginPath();
      x.ticks.forEach(t => {
        const px = Math.round(x.getPixelForValue(t.value)) + 0.5;
        ctx.moveTo(px, a.bottom); ctx.lineTo(px, a.bottom - 4);
        ctx.moveTo(px, a.top); ctx.lineTo(px, a.top + 4);
      });
      y.ticks.forEach(t => {
        const py = Math.round(y.getPixelForValue(t.value)) + 0.5;
        ctx.moveTo(a.left, py); ctx.lineTo(a.left + 4, py);
      });
      y2.ticks.forEach(t => {
        const py = Math.round(y2.getPixelForValue(t.value)) + 0.5;
        ctx.moveTo(a.right, py); ctx.lineTo(a.right - 4, py);
      });
      ctx.stroke();

      // ellipse + arrow call-outs
      ctx.lineWidth = 1.2;
      p.ell.forEach(([f, v, rx, ry]) => {
        ctx.beginPath();
        ctx.ellipse(x.getPixelForValue(f), y.getPixelForValue(v), rx, ry, 0, 0, Math.PI * 2);
        ctx.stroke();
      });
      ctx.strokeStyle = '#222';
      ctx.fillStyle = '#222';
      p.arr.forEach(([f1, f2, v]) => arrow(ctx, x.getPixelForValue(f1), y.getPixelForValue(v), x.getPixelForValue(f2)));

      // axis titles
      ctx.fillStyle = '#000';
      const midY = (a.top + a.bottom) / 2;
      const big = 'bold 16px ' + SERIF, small = 'bold 12px ' + SERIF;
      vTitle(ctx, [['|S', big], ['11', small, 5], ['| (dB)', big]], a.left - 39, midY);
      vTitle(ctx, [['Realized Gain (dBi)', big]], a.right + 34, midY);
      ctx.font = 'bold 16px ' + SERIF;
      ctx.textAlign = 'center';
      ctx.textBaseline = 'middle';
      ctx.fillText('Frequency (GHz)', (a.left + a.right) / 2, a.bottom + 27);
      ctx.restore();
    }
  };
}

const toXY = (xs, ys) => xs.map((v, i) => ({ x: v, y: ys[i] }));
const tickFont = { family: SERIF, size: 15, weight: 'bold' };

function lineSet(data, s, axis, extra) {
  const st = lineStyles[s];
  return Object.assign({
    data, yAxisID: axis, borderColor: st.color, borderWidth: st.width, borderDash: st.dash,
    pointRadius: 0, fill: false, cubicInterpolationMode: 'monotone', order: 2 - s
  }, extra || {});
}

function legendHtml(items) {
  return items.map(([s, sym, sub, rest]) => {
    const st = lineStyles[s];
    const dash = st.dash.length ? ` stroke-dasharray="${st.dash.join(',')}"` : '';
    return `<svg width="24" height="10"><line x1="0" y1="5" x2="24" y2="5" stroke="${st.color}" stroke-width="${st.width + 0.4}"${dash}/></svg>` +
      `<b>${sym}</b>` + (sub ? `<sub>${sub}</sub>` : '') + `<span class="t">${rest}</span>`;
  }).join('');
}

panels.forEach(p => {
  const [L, T, R, B] = p.box;
  const cv = document.createElement('canvas');
  cv.width = R - L + 2 * M;
  cv.height = B - T + PT + BH;
  cv.style.left = (L - M) + 'px';
  cv.style.top = (T - PT) + 'px';
  document.body.appendChild(cv);

  const datasets = [];
  p.s11.forEach((vals, s) => {
    const extra = (s === 1 && p.redDash) ? { borderDash: p.redDash } : null;
    datasets.push(lineSet(toXY(freqS11, vals), s, 'y', extra));
  });
  p.gain.forEach((vals, s) => {
    const extra = (s === 2 && p.gainDotColor) ? { borderColor: p.gainDotColor } : null;
    datasets.push(lineSet(toXY(freqGain, vals), s, 'y2', extra));
  });

  const yScale = (pos, step) => ({
    type: 'linear', position: pos, min: p.yMin, max: 10,
    ticks: { stepSize: step, font: tickFont, color: '#000', padding: 3, autoSkip: false },
    grid: { display: false, drawTicks: false },
    border: { display: false },
    afterFit: s => { s.width = M; }
  });

  new Chart(cv, {
    type: 'line',
    data: { datasets },
    options: {
      responsive: false, animation: false, devicePixelRatio: 1,
      layout: { padding: { top: PT, left: 0, right: 0, bottom: 0 } },
      plugins: { legend: { display: false }, tooltip: { enabled: false } },
      scales: {
        x: {
          type: 'linear', min: 20, max: 68,
          ticks: { stepSize: 4, font: tickFont, color: '#000', padding: 4, autoSkip: false, maxRotation: 0 },
          grid: { display: false, drawTicks: false },
          border: { display: false },
          afterFit: s => { s.height = BH; }
        },
        y: yScale('left', p.lStep),
        y2: yScale('right', 5)
      }
    },
    plugins: [makeDecor(p)]
  });

  // legend: fit the text between the measured ends of the original legend line
  const [x0, x1, ly] = p.legAt;
  const leg = document.createElement('div');
  leg.className = 'leg';
  leg.style.left = x0 + 'px';
  leg.style.top = (ly - 10) + 'px';
  leg.innerHTML = legendHtml(p.leg);
  document.body.appendChild(leg);
  for (let k = 0; k < 3; k++) {
    const w = leg.getBoundingClientRect().width;
    const fs = parseFloat(getComputedStyle(leg).fontSize);
    leg.style.fontSize = Math.max(12, Math.min(19, fs * (x1 - x0) / w)).toFixed(2) + 'px';
  }
  leg.style.transform = `scaleX(${((x1 - x0) / leg.getBoundingClientRect().width).toFixed(3)})`;

  const lab = document.createElement('div');
  lab.className = 'lab';
  lab.style.left = p.labAt[0] + 'px';
  lab.style.top = p.labAt[1] + 'px';
  lab.textContent = '(' + p.key + ')';
  document.body.appendChild(lab);
});
</script>
</body>
</html>
